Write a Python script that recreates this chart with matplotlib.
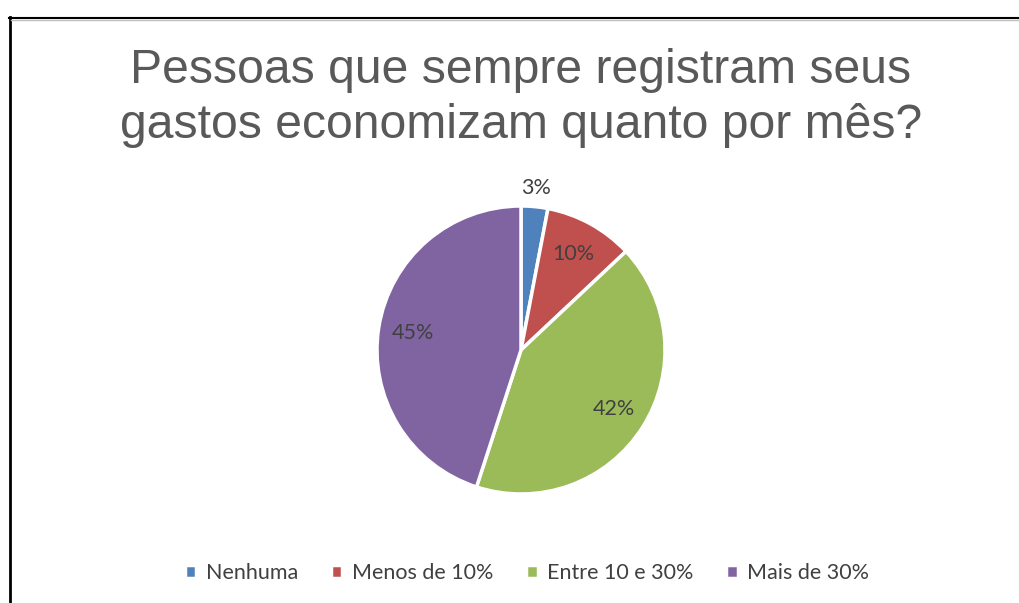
import matplotlib
matplotlib.use("Agg")
import numpy as np
import matplotlib.pyplot as plt
from matplotlib.lines import Line2D

title_lines = ["Pessoas que sempre registram seus",
               "gastos economizam quanto por mês?"]
categories = ["Nenhuma", "Menos de 10%", "Entre 10 e 30%", "Mais de 30%"]
values = [3, 10, 42, 45]
colors = ["#4F81BD", "#C0504D", "#9BBB59", "#8064A2"]

W, H = 1019, 603
fig = plt.figure(figsize=(W / 100, H / 100), dpi=100)

# pie centre ~ (521, 350) px, radius ~144 px
cx, cy, r = 521, 350, 144
ax = fig.add_axes([(cx - r) / W, (H - cy - r) / H, 2 * r / W, 2 * r / H])

wedges, texts, autotexts = ax.pie(
    values, colors=colors, startangle=90, counterclock=False,
    autopct="%.0f%%", pctdistance=0.76,
    wedgeprops=dict(edgecolor="white", linewidth=2.5),
    textprops=dict(color="#404040", fontsize=15.5, family="Lato"),
)
# the small slice gets its label outside
w = wedges[0]
ang = np.deg2rad((w.theta1 + w.theta2) / 2)
autotexts[0].set_position((1.13 * np.cos(ang), 1.13 * np.sin(ang)))
ax.set_xlim(-1, 1)
ax.set_ylim(-1, 1)
ax.set_aspect("equal")
ax.axis("off")

for line, base in zip(title_lines, [83, 138]):
    fig.text(521 / W, 1 - base / H, line, ha="center", va="baseline", fontsize=34.7,
             color="#595959", family="Liberation Sans")

fig.legend(wedges, categories, loc="center", bbox_to_anchor=(527 / W, 30 / H),
           ncol=4, frameon=False, handlelength=0.55, handleheight=0.55,
           handletextpad=0.45, columnspacing=1.5,
           prop=dict(family="Lato", size=15.5), labelcolor="#404040")

# chart frame (left and top edges visible)
fig.add_artist(Line2D([9.5 / W, 9.5 / W], [0, 1 - 17 / H], color="black", lw=2,
                      transform=fig.transFigure))
fig.add_artist(Line2D([9 / W, 1], [1 - 17.5 / H, 1 - 17.5 / H], color="black", lw=1.5,
                      transform=fig.transFigure))
fig.add_artist(Line2D([11 / W, 1], [1 - 19.5 / H, 1 - 19.5 / H], color="#C0C0C0", lw=1,
                      transform=fig.transFigure))

fig.savefig("out.png", dpi=100)
